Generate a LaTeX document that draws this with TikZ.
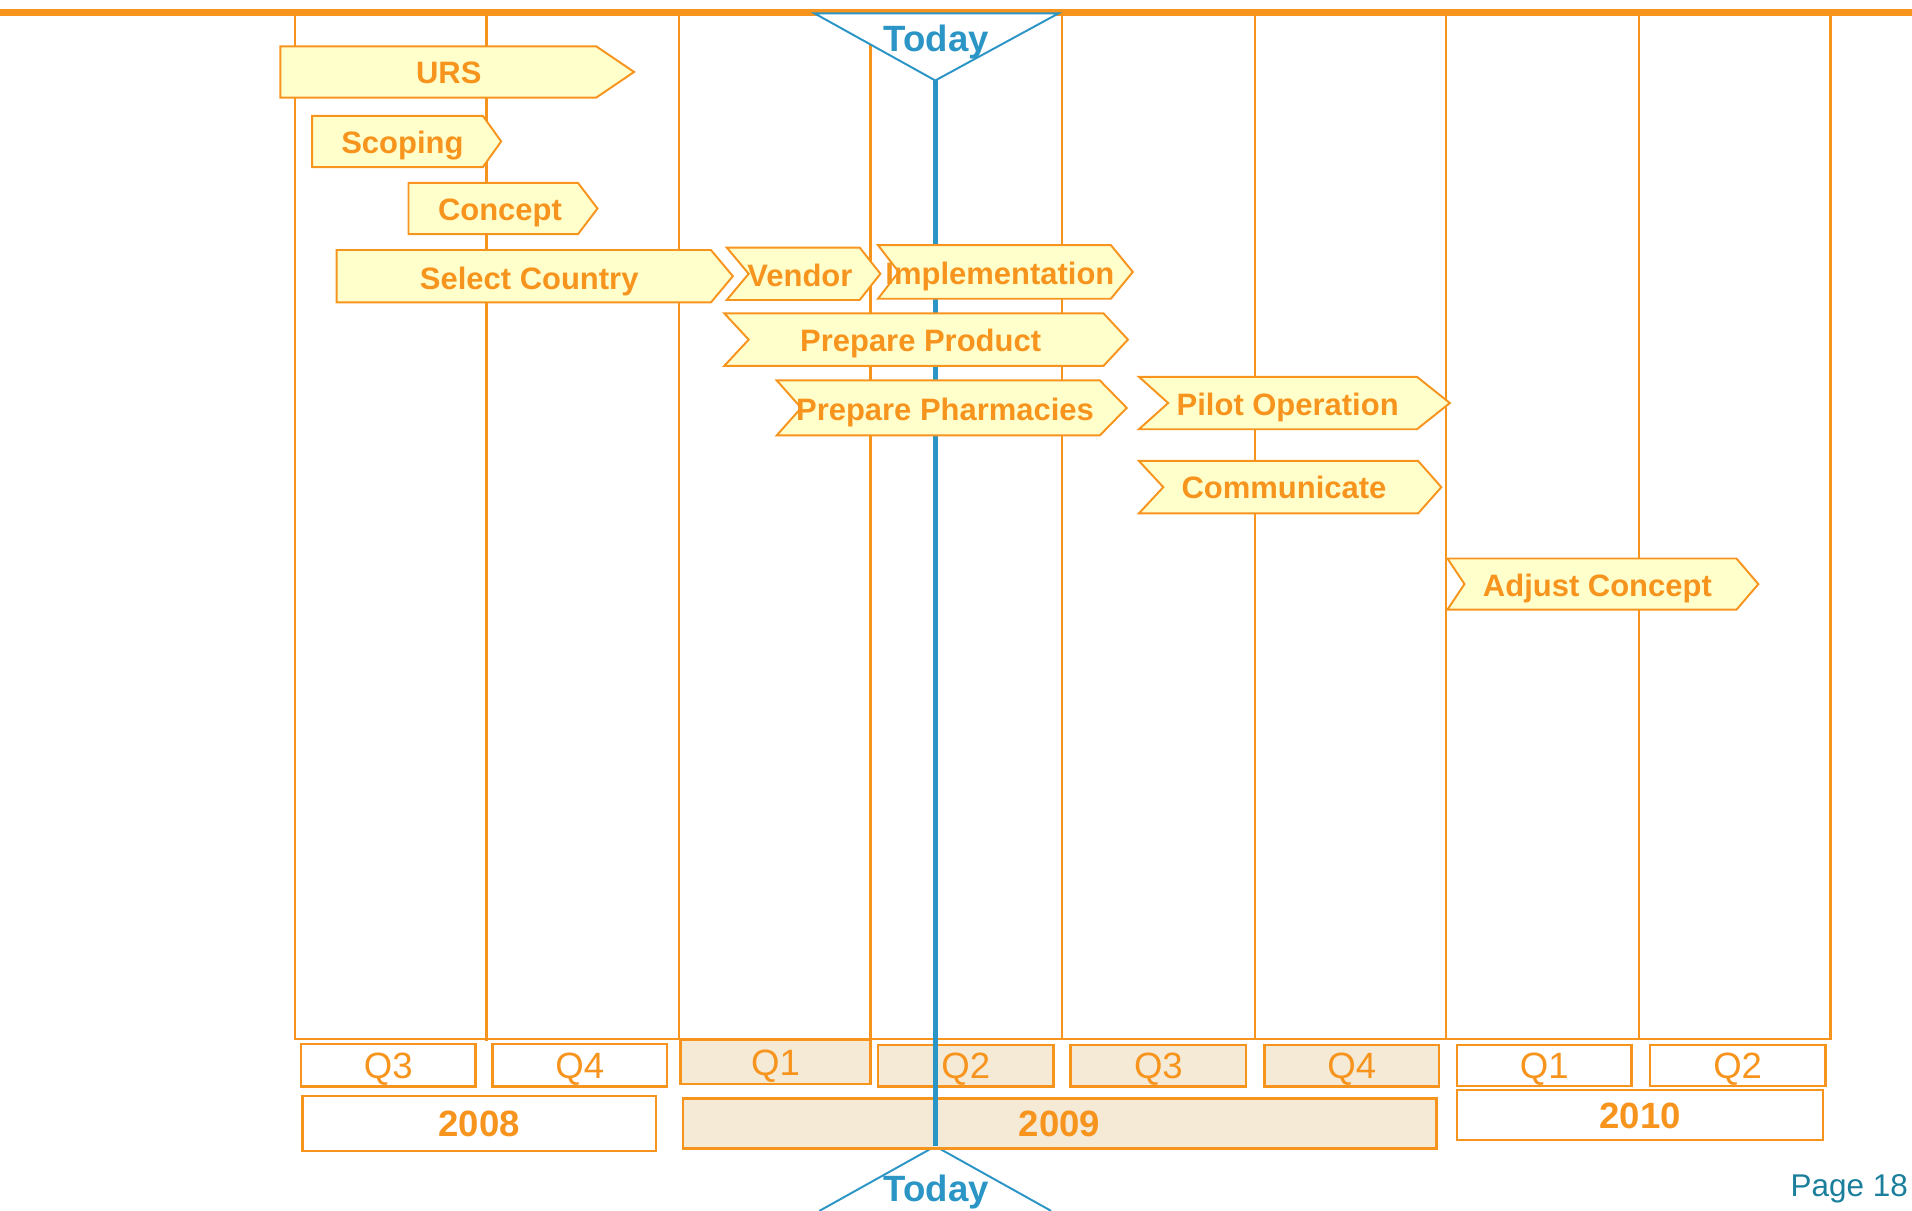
\documentclass[tikz,border=0pt]{standalone}
\usepackage{fontspec}
\setmainfont{Liberation Sans}
\definecolor{orng}{HTML}{F7941D}
\definecolor{yel}{HTML}{FFFFCC}
\definecolor{beige}{HTML}{F5EAD6}
\definecolor{tblue}{HTML}{2B95C6}
\definecolor{teal}{HTML}{1B7F9C}
\newcommand{\pentbar}[6]{% name, x1,y1,x2,y2,tip
  \draw[bar] (#2,#3) -- ({#4-#6},#3) -- (#4,{(#3+#5)/2}) -- ({#4-#6},#5) -- (#2,#5) -- cycle;}
\newcommand{\chevbar}[7]{% name, x1,y1,x2,y2,notch,tip
  \draw[bar] (#2,#3) -- ({#4-#7},#3) -- (#4,{(#3+#5)/2}) -- ({#4-#7},#5) -- (#2,#5) -- ({#2+#6},{(#3+#5)/2}) -- cycle;}
\begin{document}
\begin{tikzpicture}[x=0.5pt,y=-0.5pt,
  col/.style={draw=orng, line width=1pt},
  bar/.style={draw=orng, fill=yel, line width=0.8pt, line join=miter},
  lbl/.style={text=orng, font=\bfseries\fontsize{12.7}{14}\selectfont, inner sep=0pt, text height=9.1pt, text depth=0pt},
  qbox/.style={draw=orng, line width=1pt},
  qtxt/.style={text=orng, font=\fontsize{15}{17}\selectfont, inner sep=0pt, text height=10.7pt, text depth=0pt},
  ytxt/.style={text=orng, font=\bfseries\fontsize{15}{17}\selectfont, inner sep=0pt, text height=10.7pt, text depth=0pt},
  today/.style={text=tblue, font=\bfseries\fontsize{15}{17}\selectfont, inner sep=0pt, text height=10.7pt, text depth=0pt},
  tri/.style={draw=tblue, line width=0.8pt, fill=white, line join=miter}]
\useasboundingbox (0,0) rectangle (1568,993);
% top line
\draw[orng, line width=2.9pt] (0,10) -- (1568,10);
% columns
\foreach \a/\b in {242/399,399/557,557/714,714/871,871/1029,1029/1186,1186/1344,1344/1501}
  \draw[col] (\a,10) rectangle (\b,852);
\draw[col, line width=1.5pt] (399,10) -- (399,854);
\draw[col, line width=1.5pt] (714,10) -- (714,852);
% Today line and triangles
\draw[tblue, line width=2pt] (767,66) -- (767,940);
\draw[tri] (668,11) -- (868,11) -- (767,66) -- cycle;
\node[today] (todaytop) at (768,31.5) {Today};
\draw[tri, fill=none] (672,993) -- (767,940) -- (862,993);
\node[today] (todaybot) at (768,975) {Today};
% quarter boxes
\draw[qbox] (247,856) rectangle (390,891);
\node[qtxt] (q3a) at (318.5,873.5) {Q3};
\draw[qbox] (404,856) rectangle (547,891);
\node[qtxt] (q4a) at (475.5,873.5) {Q4};
\draw[qbox, fill=beige] (558,853) rectangle (714,889);
\node[qtxt] (q1b) at (636,871) {Q1};
\draw[qbox, fill=beige] (720,857) rectangle (864,891);
\node[qtxt] (q2b) at (792,874) {Q2};
\draw[qbox, fill=beige] (878,857) rectangle (1022,891);
\node[qtxt] (q3b) at (950,874) {Q3};
\draw[qbox, fill=beige] (1037,857) rectangle (1180,891);
\node[qtxt] (q4b) at (1108.5,874) {Q4};
\draw[qbox] (1195,857) rectangle (1338,890.5);
\node[qtxt] (q1c) at (1266.5,874) {Q1};
\draw[qbox] (1353,857) rectangle (1497,890.5);
\node[qtxt] (q2c) at (1425,874) {Q2};
% year boxes
\draw[qbox] (248,899) rectangle (538,944);
\node[ytxt] (y2008) at (393,921.5) {2008};
\draw[qbox, fill=beige] (560,901) rectangle (1178,942);
\node[ytxt] (y2009) at (869,921.5) {2009};
\draw[qbox] (1195,894) rectangle (1495,935);
\node[ytxt] (y2010) at (1345,914.5) {2010};
% redraw today line over 2009 box
\draw[tblue, line width=2pt] (767,852) -- (767,940);
% bars
\pentbar{urs}{230}{38}{520}{80}{31}
\node[lbl] (urs) at (368,59) {URS};
\pentbar{scop}{256}{95}{411}{137}{15}
\node[lbl] (scop) at (330,117) {Scoping};
\pentbar{conc}{335}{150}{490}{192}{16}
\node[lbl] (conc) at (410,172) {Concept};
\pentbar{selc}{276}{205}{601}{248}{18}
\node[lbl] (selc) at (434,228) {Select Country};
\chevbar{vend}{596}{203}{722}{246}{18}{17}
\node[lbl] (vend) at (656,226) {Vendor};
\chevbar{impl}{720}{201}{929}{245}{17}{18}
\node[lbl] (impl) at (820,224) {Implementation};
\chevbar{prod}{594}{257}{925}{300}{20}{20}
\node[lbl] (prod) at (755,279) {Prepare Product};
\chevbar{phar}{637}{312}{924}{357}{20}{22}
\node[lbl] (phar) at (775,336) {Prepare Pharmacies};
\chevbar{pilot}{934}{309}{1189}{352}{24}{27}
\node[lbl] (pilot) at (1056,332) {Pilot Operation};
\chevbar{comm}{934}{378}{1182}{421}{20}{19}
\node[lbl] (comm) at (1053,400) {Communicate};
\chevbar{adj}{1187}{458}{1442}{500}{14}{18}
\node[lbl] (adj) at (1310,480) {Adjust Concept};
% page number
\node[text=teal, font=\fontsize{12.9}{15}\selectfont, inner sep=0pt, anchor=base east] (page) at (1565,981) {Page 18};
\end{tikzpicture}
\end{document}
